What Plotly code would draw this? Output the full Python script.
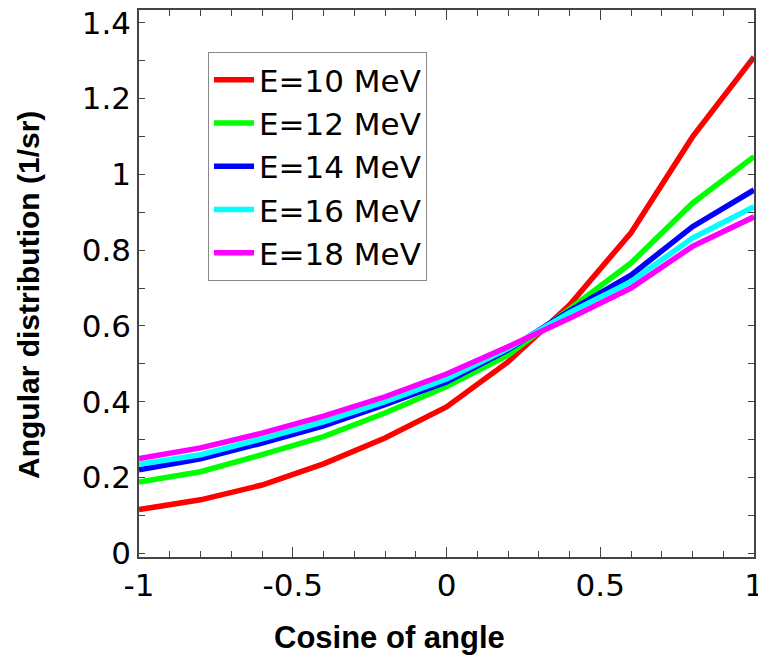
import plotly.graph_objects as go

cosine = [-1.0, -0.8, -0.6, -0.4, -0.2, 0.0, 0.2, 0.4, 0.6, 0.8, 1.0]
e10 = [0.115, 0.141, 0.180, 0.236, 0.304, 0.386, 0.505, 0.655, 0.846, 1.099, 1.310]
e12 = [0.188, 0.215, 0.260, 0.308, 0.370, 0.440, 0.523, 0.645, 0.766, 0.924, 1.047]
e14 = [0.220, 0.249, 0.291, 0.336, 0.392, 0.452, 0.537, 0.640, 0.734, 0.862, 0.959]
e16 = [0.235, 0.260, 0.302, 0.347, 0.400, 0.460, 0.540, 0.635, 0.717, 0.832, 0.915]
e18 = [0.250, 0.278, 0.317, 0.362, 0.413, 0.473, 0.545, 0.620, 0.700, 0.810, 0.888]
series_names = ["E=10 MeV", "E=12 MeV", "E=14 MeV", "E=16 MeV", "E=18 MeV"]
series_colors = ["#ff0000", "#00ff00", "#0000ff", "#00ffff", "#ff00ff"]

x_tickvals = [-1, -0.5, 0, 0.5, 1]
x_ticktext = ["-1", "-0.5", "0", "0.5", "1"]
y_tickvals = [0, 0.2, 0.4, 0.6, 0.8, 1.0, 1.2, 1.4]
y_ticktext = ["0", "0.2", "0.4", "0.6", "0.8", "1", "1.2", "1.4"]

W, H = 758, 655
L, R, T, B = 139, 4, 10, 98
pw, ph = W - L - R, H - T - B

fig = go.Figure()
for name, ys, col in zip(series_names, [e10, e12, e14, e16, e18], series_colors):
    fig.add_trace(go.Scatter(x=cosine, y=ys, mode="lines", name=name,
                             line=dict(color=col, width=5.5)))

axcol = "#444444"
tickfont = dict(family="DejaVu Sans", size=31, color="black")
fig.update_layout(
    width=W, height=H,
    margin=dict(l=L, r=R, t=T, b=B),
    paper_bgcolor="white", plot_bgcolor="white",
    showlegend=True,
    legend=dict(x=(208 - L) / pw, y=1 - (52 - T) / ph, xanchor="left", yanchor="top",
                bgcolor="white", bordercolor="#888888", borderwidth=1,
                font=dict(family="DejaVu Sans", size=31, color="black"),
                tracegroupgap=0, itemwidth=40),
    font=dict(family="DejaVu Sans", size=31, color="black"),
)
fig.update_xaxes(range=[-1, 1], showgrid=False, zeroline=False, automargin=False,
                 showline=True, linecolor=axcol, linewidth=1.5, mirror="ticks",
                 ticks="inside", ticklen=10, tickcolor=axcol, tickwidth=1.2,
                 tickmode="array", tickvals=x_tickvals, ticktext=x_ticktext,
                 tickfont=tickfont, ticklabeloverflow="allow",
                 minor=dict(tickmode="linear", tick0=-1, dtick=0.1, ticks="inside",
                            ticklen=6, tickcolor=axcol, tickwidth=1.2, showgrid=False))
fig.update_yaxes(range=[-0.01, 1.434], showgrid=False, zeroline=False, automargin=False,
                 showline=True, linecolor=axcol, linewidth=1.5, mirror="ticks",
                 ticks="inside", ticklen=6, tickcolor=axcol, tickwidth=1.2,
                 tickmode="array", tickvals=y_tickvals, ticktext=y_ticktext,
                 tickfont=tickfont, ticklabeloverflow="allow",
                 minor=dict(tickmode="linear", tick0=0, dtick=0.1, ticks="inside",
                            ticklen=6, tickcolor=axcol, tickwidth=1.2, showgrid=False))

fig.add_annotation(text="<b>Cosine of angle</b>", xref="paper", yref="paper",
                   x=(389 - L) / pw, y=-(637 - (H - B)) / ph,
                   xanchor="center", yanchor="middle", showarrow=False,
                   font=dict(family="Liberation Sans", size=31, color="black"))
fig.add_annotation(text="<b>Angular distribution (1/sr)</b>", xref="paper", yref="paper",
                   x=-(L - 28) / pw, y=((H - B) - 295) / ph, textangle=-90,
                   xanchor="center", yanchor="middle", showarrow=False,
                   font=dict(family="Liberation Sans", size=30, color="black"))

post = ("var d=document.getElementById('{plot_id}');"
        "d.style.overflow='hidden';d.style.width='758px';d.style.height='655px';"
        "document.body.style.margin='0';document.body.style.overflow='hidden';"
        "document.documentElement.style.overflow='hidden';")
fig.write_html("out.html", config={"displayModeBar": False}, post_script=post)
